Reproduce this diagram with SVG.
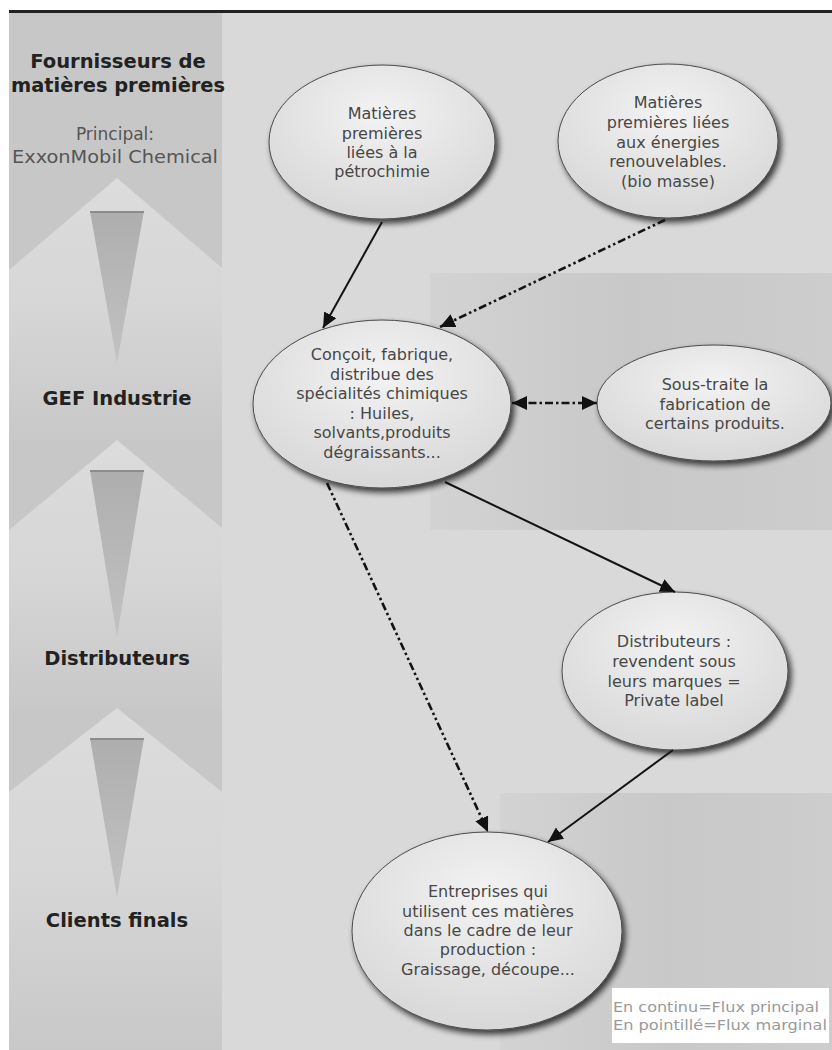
<svg xmlns="http://www.w3.org/2000/svg" width="832" height="1050" viewBox="0 0 832 1050">
<style>
.node-text{font-family:"DejaVu Sans","Liberation Sans",sans-serif;font-size:16px;fill:#474747;text-anchor:middle}
.head{font-family:"DejaVu Sans","Liberation Sans",sans-serif;font-size:19.5px;font-weight:bold;fill:#222;text-anchor:middle}
.sub{font-family:"DejaVu Sans","Liberation Sans",sans-serif;font-size:17px;fill:#555;text-anchor:middle}
.legend{font-family:"DejaVu Sans","Liberation Sans",sans-serif;font-size:14px;fill:#9a9a9a}
.ell{fill:url(#ellFill);stroke:#4a4a4a;stroke-width:1;filter:url(#shadow)}
.solid{stroke:#141414;stroke-width:2;fill:none;marker-end:url(#arrow)}
.dashdot{stroke:#141414;stroke-width:2.6;fill:none;stroke-dasharray:8 3 2.5 3 2.5 3;marker-end:url(#arrow)}
.tri{fill:url(#triFill)}
.triTop{stroke:#8c8c8c;stroke-width:2}
.chev{fill:url(#chevFill)}
</style>
<defs>
<radialGradient id="ellFill" cx="50%" cy="32%" r="65%">
<stop offset="0" stop-color="#f3f3f3"/>
<stop offset="0.6" stop-color="#e3e3e3"/>
<stop offset="1" stop-color="#d9d9d9"/>
</radialGradient>
<linearGradient id="triFill" x1="0" y1="0" x2="0" y2="1">
<stop offset="0" stop-color="#aeaeae"/>
<stop offset="1" stop-color="#c2c2c2"/>
</linearGradient>
<linearGradient id="chevFill" x1="0" y1="0" x2="0" y2="1">
<stop offset="0" stop-color="#dcdcdc"/>
<stop offset="0.5" stop-color="#d6d6d6"/>
<stop offset="1" stop-color="#c8c8c8"/>
</linearGradient>
<linearGradient id="band2" x1="0" y1="0" x2="1" y2="0">
<stop offset="0" stop-color="#d3d3d3"/>
<stop offset="0.5" stop-color="#c8c8c8"/>
<stop offset="1" stop-color="#cdcdcd"/>
</linearGradient>
<filter id="shadow" x="-20%" y="-20%" width="140%" height="150%">
<feGaussianBlur in="SourceAlpha" stdDeviation="3"/>
<feOffset dx="3" dy="4" result="b"/>
<feComponentTransfer in="b" result="s"><feFuncA type="linear" slope="0.75"/></feComponentTransfer>
<feMerge><feMergeNode in="s"/><feMergeNode in="SourceGraphic"/></feMerge>
</filter>
<marker id="arrow" markerUnits="userSpaceOnUse" markerWidth="16" markerHeight="14" refX="15" refY="7" orient="auto-start-reverse">
<path d="M0,0 L15,7 L0,14 Z" fill="#111"/>
</marker>
</defs>

<!-- background -->
<g id="background">
<rect x="0" y="0" width="832" height="1050" fill="#fff"/>
<rect x="9" y="11" width="823" height="1039" fill="#d9d9d9"/>
<rect x="430" y="273" width="402" height="257" fill="url(#band2)"/>
<rect x="500" y="793" width="332" height="257" fill="url(#band2)"/>
<rect x="9" y="11" width="213" height="1039" fill="#c7c7c7"/>
<polygon class="chev" points="117,178 222,268 222,440 9,440 9,270"/>
<polygon class="chev" points="117,440 222,528 222,708 9,708 9,530"/>
<polygon class="chev" points="117,708 222,792 222,1050 9,1050 9,792"/>
<polygon class="tri" points="90,211 144,211 117,363"/>
<line class="triTop" x1="90" y1="212" x2="144" y2="212"/>
<polygon class="tri" points="90,470 144,470 117,637"/>
<line class="triTop" x1="90" y1="471" x2="144" y2="471"/>
<polygon class="tri" points="90,738 144,738 117,897"/>
<line class="triTop" x1="90" y1="739" x2="144" y2="739"/>
<line x1="9" y1="11.5" x2="832" y2="11.5" stroke="#222" stroke-width="3"/>
</g>

<!-- left labels -->
<g id="label-fournisseurs">
<text class="head" x="118" y="68">Fournisseurs de</text>
<text class="head" x="118" y="92" textLength="214" lengthAdjust="spacingAndGlyphs">matières premières</text>
<text class="sub" x="115" y="140">Principal:</text>
<text class="sub" x="115" y="163" textLength="206" lengthAdjust="spacingAndGlyphs">ExxonMobil Chemical</text>
</g>
<g id="label-gef"><text class="head" x="117" y="405">GEF Industrie</text></g>
<g id="label-distributeurs"><text class="head" x="117" y="665">Distributeurs</text></g>
<g id="label-clients"><text class="head" x="117" y="927">Clients finals</text></g>

<!-- nodes -->
<g id="node-petrochimie">
<ellipse class="ell" cx="382" cy="142" rx="113" ry="77"/>
<text class="node-text" x="382" y="119">Matières</text>
<text class="node-text" x="382" y="139">premières</text>
<text class="node-text" x="382" y="158">liées à la</text>
<text class="node-text" x="382" y="177">pétrochimie</text>
</g>
<g id="node-renouvelables">
<ellipse class="ell" cx="668" cy="141" rx="110" ry="77"/>
<text class="node-text" x="668" y="108">Matières</text>
<text class="node-text" x="668" y="128">premières liées</text>
<text class="node-text" x="668" y="148">aux énergies</text>
<text class="node-text" x="668" y="167">renouvelables.</text>
<text class="node-text" x="668" y="187">(bio masse)</text>
</g>
<g id="node-gef">
<ellipse class="ell" cx="382" cy="404" rx="129" ry="84"/>
<text class="node-text" x="382" y="360">Conçoit, fabrique,</text>
<text class="node-text" x="382" y="379.5">distribue des</text>
<text class="node-text" x="382" y="399">spécialités chimiques</text>
<text class="node-text" x="382" y="418.5">: Huiles,</text>
<text class="node-text" x="382" y="438">solvants,produits</text>
<text class="node-text" x="382" y="457.5">dégraissants...</text>
</g>
<g id="node-soustraite">
<ellipse class="ell" cx="714" cy="403" rx="117" ry="58"/>
<text class="node-text" x="715" y="390">Sous-traite la</text>
<text class="node-text" x="715" y="409.5">fabrication de</text>
<text class="node-text" x="715" y="429">certains produits.</text>
</g>
<g id="node-distributeurs">
<ellipse class="ell" cx="675" cy="671" rx="113" ry="79"/>
<text class="node-text" x="674" y="647">Distributeurs :</text>
<text class="node-text" x="674" y="667">revendent sous</text>
<text class="node-text" x="674" y="687">leurs marques =</text>
<text class="node-text" x="674" y="706">Private label</text>
</g>
<g id="node-clients">
<ellipse class="ell" cx="487" cy="931" rx="135" ry="99"/>
<text class="node-text" x="488" y="897">Entreprises qui</text>
<text class="node-text" x="488" y="917">utilisent ces matières</text>
<text class="node-text" x="488" y="936">dans le cadre de leur</text>
<text class="node-text" x="488" y="955">production :</text>
<text class="node-text" x="488" y="975">Graissage, découpe...</text>
</g>

<!-- connectors -->
<g id="connectors">
<line class="solid" x1="382" y1="222" x2="323" y2="328"/>
<line class="dashdot" x1="665" y1="220" x2="440" y2="327"/>
<line class="dashdot" x1="512" y1="403" x2="597" y2="403" marker-start="url(#arrow)" style="stroke-dasharray:8 3 2.5 3"/>
<line class="solid" x1="445" y1="482" x2="675" y2="592"/>
<line class="dashdot" x1="327" y1="483" x2="488" y2="832"/>
<line class="solid" x1="673" y1="750" x2="548" y2="842"/>
</g>

<!-- legend -->
<g id="legend">
<rect x="612" y="988" width="217" height="55" fill="#fff"/>
<text class="legend" x="613" y="1012" textLength="206" lengthAdjust="spacingAndGlyphs">En continu=Flux principal</text>
<text class="legend" x="613" y="1030" textLength="214" lengthAdjust="spacingAndGlyphs">En pointillé=Flux marginal</text>
</g>
</svg>
